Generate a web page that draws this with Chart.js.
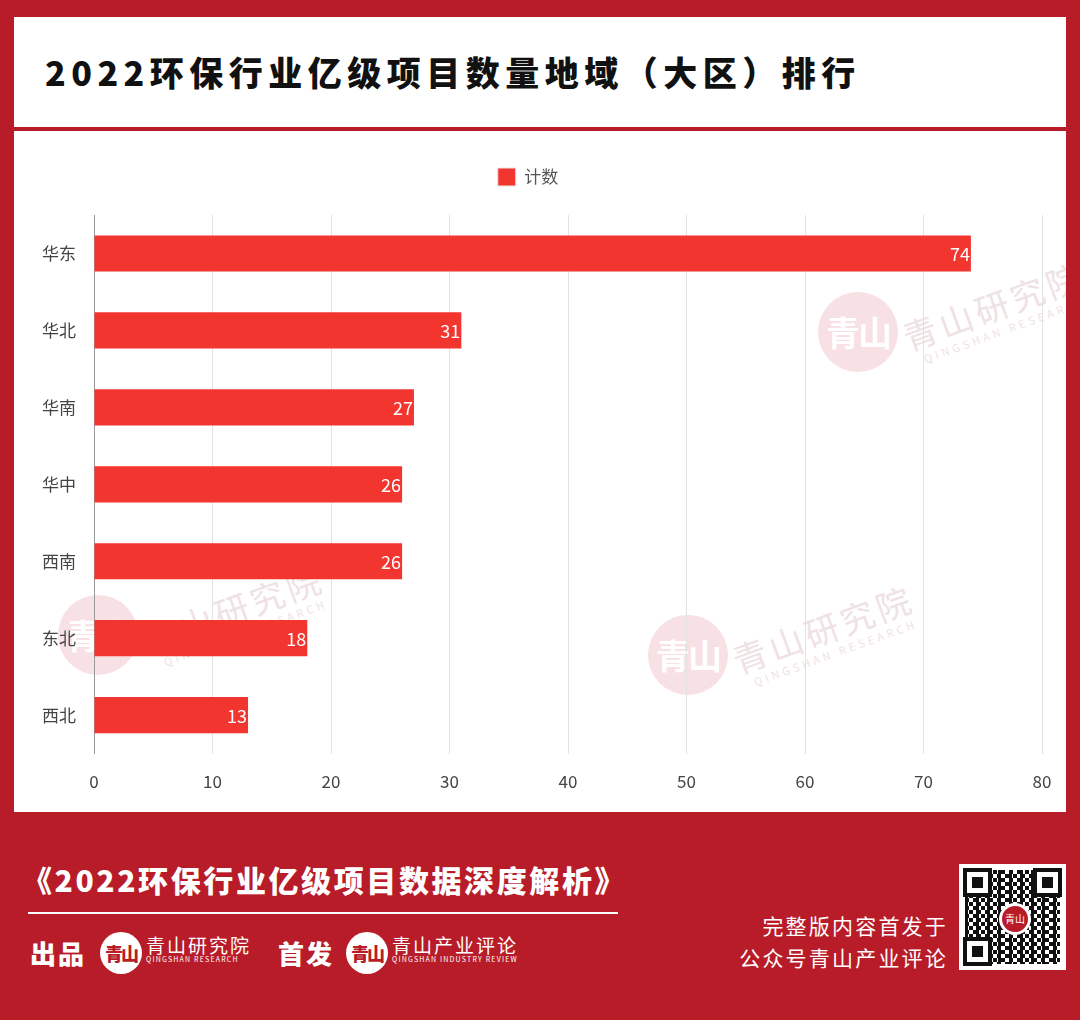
<!DOCTYPE html>
<html><head><meta charset="utf-8">
<script src="https://cdn.jsdelivr.net/npm/chart.js@4.4.1/dist/chart.umd.min.js"></script>
<style>
html,body{margin:0;padding:0;}
body{width:1080px;height:1020px;background:#b81c28;position:relative;overflow:hidden;font-family:"Noto Sans CJK SC","Noto Sans",sans-serif;}
#titlebox{position:absolute;left:14px;top:17px;width:1052px;height:110px;background:#fff;}
#titlebox h1{margin:0;position:absolute;left:31px;top:35px;font-size:34px;font-weight:900;letter-spacing:5.5px;color:#111;line-height:40px;white-space:nowrap;}
#chartbox{position:absolute;left:14px;top:131px;width:1052px;height:681px;background:#fff;overflow:hidden;}
#chartbox canvas{position:relative;z-index:2;}
.wm{position:absolute;z-index:1;}
.wm .c{position:absolute;width:80px;height:80px;border-radius:50%;background:#f8e1e4;color:#fff;font-size:34px;font-weight:700;line-height:80px;text-align:center;letter-spacing:-2px;}
.wm .t{position:absolute;left:88px;top:-2px;transform-origin:0 50%;transform:rotate(-20deg);white-space:nowrap;color:#efe2e4;}
.wm .t .a{font-size:34px;letter-spacing:4px;line-height:40px;}
.wm .t .b{font-size:11px;letter-spacing:3.5px;line-height:12px;display:block;margin-left:12px;}
#ftitle{position:absolute;left:22px;top:861px;color:#fff;font-size:30px;font-weight:900;letter-spacing:2.6px;white-space:nowrap;line-height:36px;}
#fline{position:absolute;left:28px;top:912px;width:590px;height:2px;background:#fff;}
.lbl{position:absolute;color:#fff;font-weight:900;font-size:26px;letter-spacing:2px;line-height:30px;}
.logo{position:absolute;width:42px;height:42px;border-radius:50%;background:#fff;color:#b81c28;font-size:18px;font-weight:900;line-height:42px;text-align:center;letter-spacing:-2px;}
.lt{position:absolute;color:#fff;white-space:nowrap;}
.lt .a{font-size:19px;line-height:20px;display:block;letter-spacing:2px;}
.lt .b{font-size:7px;line-height:9px;display:block;letter-spacing:1.2px;}
.rt{position:absolute;right:132px;color:#fff;font-size:21px;letter-spacing:2.2px;line-height:26px;text-align:right;white-space:nowrap;}
#qr{position:absolute;left:959px;top:864px;width:107px;height:106px;background:#fff;overflow:hidden;}
.fp{position:absolute;width:21px;height:21px;border:4px solid #111;background:#fff;z-index:2;}
.fp::after{content:"";position:absolute;left:5px;top:5px;width:11px;height:11px;background:#111;}
#qrm{position:absolute;left:6px;top:6px;width:95px;height:94px;
 background-image:repeating-conic-gradient(#111 0 25%,transparent 0 50%),repeating-linear-gradient(90deg,#111 0 3px,transparent 3px 11px),repeating-linear-gradient(0deg,#fff 0 3px,transparent 3px 9px);
 background-size:8px 8px,auto,auto;}
#qrc{position:absolute;left:40px;top:39px;width:26px;height:26px;border-radius:50%;background:#b81c28;border:3px solid #fff;color:#fff;font-size:10px;line-height:26px;text-align:center;z-index:2;}
</style></head>
<body>
<div id="titlebox"><h1>2022环保行业亿级项目数量地域（大区）排行</h1></div>
<div id="chartbox">
  <div class="wm" style="left:804px;top:161px;"><div class="c">青山</div><div class="t" style="top:26px;"><span class="a">青山研究院</span><span class="b">QINGSHAN RESEARCH</span></div></div>
  <div class="wm" style="left:44px;top:464px;"><div class="c">青山</div><div class="t" style="top:26px;"><span class="a">青山研究院</span><span class="b">QINGSHAN RESEARCH</span></div></div>
  <div class="wm" style="left:634px;top:484px;"><div class="c">青山</div><div class="t" style="top:26px;"><span class="a">青山研究院</span><span class="b">QINGSHAN RESEARCH</span></div></div>
  <canvas id="c" width="1052" height="681"></canvas>
</div>
<div id="ftitle">《2022环保行业亿级项目数据深度解析》</div>
<div id="fline"></div>
<div class="lbl" style="left:30px;top:938px;">出品</div>
<div class="logo" style="left:100px;top:932px;">青山</div>
<div class="lt" style="left:146px;top:935px;"><span class="a">青山研究院</span><span class="b">QINGSHAN RESEARCH</span></div>
<div class="lbl" style="left:278px;top:938px;">首发</div>
<div class="logo" style="left:346px;top:932px;">青山</div>
<div class="lt" style="left:392px;top:935px;"><span class="a">青山产业评论</span><span class="b">QINGSHAN INDUSTRY REVIEW</span></div>
<div class="rt" style="top:912px;">完整版内容首发于</div>
<div class="rt" style="top:944px;">公众号青山产业评论</div>
<div id="qr"><div id="qrm"></div><div class="fp" style="left:4px;top:4px;"></div><div class="fp" style="left:74px;top:4px;"></div><div class="fp" style="left:4px;top:73px;"></div><div id="qrc">青山</div></div>
<script>
const categories = ["华东","华北","华南","华中","西南","东北","西北"];
const counts = [74,31,27,26,26,18,13];
const xTicks = [0,10,20,30,40,50,60,70,80];
const seriesName = "计数";

const FONT = '"Noto Sans CJK SC","Noto Sans",sans-serif';
const valueLabels = {
  id:'valueLabels',
  afterDatasetsDraw(chart){
    const ctx = chart.ctx;
    const meta = chart.getDatasetMeta(0);
    ctx.save();
    ctx.fillStyle = '#fff';
    ctx.font = '18px ' + FONT;
    ctx.textAlign = 'right';
    ctx.textBaseline = 'middle';
    meta.data.forEach((bar,i)=>{
      ctx.fillText(String(counts[i]), bar.x - 1, bar.y + 1);
    });
    ctx.restore();
  }
};
const legendGap = {
  id:'legendGap',
  beforeLayout(chart){
    const lg = chart.legend;
    if (lg && !lg._gapPatched){
      const f = lg.fit;
      lg.fit = function(){ f.call(this); this.height += 19; };
      lg._gapPatched = true;
    }
  }
};
new Chart(document.getElementById('c'), {
  type:'bar',
  data:{labels:categories, datasets:[{label:seriesName, data:counts, backgroundColor:'#f3352f', borderWidth:0, barPercentage:0.94, categoryPercentage:0.5}]},
  options:{
    indexAxis:'y', responsive:false, animation:false,
    layout:{padding:{top:0,right:24,bottom:2,left:0}},
    plugins:{
      legend:{display:true, position:'top', labels:{boxWidth:18, boxHeight:18, padding:37, color:'#555', font:{size:17,family:FONT},
        generateLabels(chart){ return [{text:seriesName, fillStyle:'#f3352f', strokeStyle:'#e6e6e6', lineWidth:1, datasetIndex:0, fontColor:'#555'}]; }}},
      tooltip:{enabled:false}
    },
    scales:{
      x:{min:0,max:80, afterBuildTicks(s){ s.ticks = xTicks.map(v=>({value:v})); },
        afterFit(s){ s.paddingRight = 0; s.paddingLeft = 0; },
        grid:{color:'#e2e2e2', drawTicks:false, lineWidth:1}, border:{display:false},
        ticks:{color:'#444', padding:18, font:{size:17,family:FONT}}},
      y:{grid:{display:false, drawTicks:false}, border:{display:true,color:'#999',width:1},
        afterFit(s){ s.width = 80; },
        ticks:{color:'#444', padding:18, font:{size:17,family:FONT}}}
    }
  },
  plugins:[valueLabels, legendGap]
});
</script>
</body></html>
